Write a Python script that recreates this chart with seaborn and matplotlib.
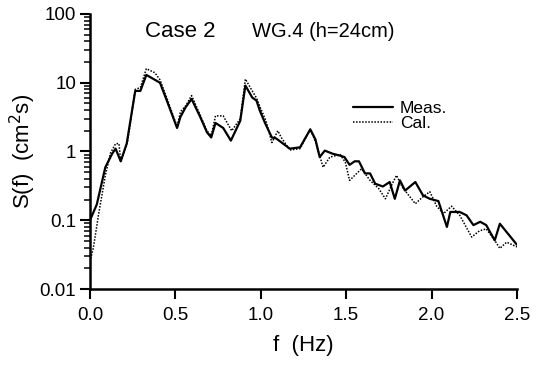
import matplotlib
matplotlib.use("Agg")
import matplotlib.pyplot as plt
import matplotlib.ticker as mticker
import seaborn as sns
import pandas as pd

# Measured spectrum
f_meas = [0.00, 0.04, 0.09, 0.13, 0.15, 0.18, 0.215, 0.265, 0.295, 0.33, 0.41,
          0.45, 0.51, 0.53, 0.56, 0.595, 0.645, 0.685, 0.71, 0.735, 0.78, 0.825,
          0.88, 0.91, 0.95, 0.975, 0.995, 1.025, 1.065, 1.09, 1.17, 1.23, 1.29,
          1.32, 1.345, 1.375, 1.42, 1.465, 1.49, 1.52, 1.55, 1.575, 1.61, 1.64,
          1.67, 1.715, 1.755, 1.785, 1.815, 1.845, 1.905, 1.95, 1.99, 2.04,
          2.09, 2.11, 2.165, 2.205, 2.245, 2.285, 2.32, 2.37, 2.40, 2.50]
s_meas = [0.10, 0.17, 0.59, 0.93, 1.1, 0.72, 1.3, 7.6, 7.6, 13.0, 10.0,
          5.5, 2.2, 3.2, 4.4, 5.8, 3.2, 1.9, 1.6, 2.6, 2.2, 1.44,
          2.8, 9.1, 6.1, 5.5, 3.9, 2.6, 1.6, 1.55, 1.1, 1.15, 2.1,
          1.5, 0.83, 1.03, 0.93, 0.87, 0.83, 0.64, 0.72, 0.72, 0.48, 0.48,
          0.34, 0.31, 0.36, 0.205, 0.38, 0.27, 0.36, 0.23, 0.205, 0.19,
          0.08, 0.132, 0.132, 0.118, 0.085, 0.095, 0.085, 0.051, 0.089, 0.044]

# Calculated spectrum
f_cal = [0.00, 0.02, 0.05, 0.09, 0.12, 0.15, 0.17, 0.18, 0.22, 0.265, 0.295,
         0.33, 0.38, 0.41, 0.45, 0.51, 0.53, 0.56, 0.595, 0.645, 0.685, 0.71,
         0.735, 0.78, 0.83, 0.88, 0.91, 0.95, 0.975, 1.00, 1.03, 1.065, 1.10,
         1.12, 1.17, 1.23, 1.29, 1.32, 1.365, 1.405, 1.465, 1.495, 1.52, 1.59,
         1.64, 1.69, 1.73, 1.77, 1.795, 1.83, 1.905, 1.95, 1.99, 2.03, 2.07,
         2.117, 2.165, 2.235, 2.28, 2.32, 2.37, 2.40, 2.44, 2.50]
s_cal = [0.025, 0.04, 0.12, 0.45, 0.95, 1.3, 1.3, 0.7, 1.4, 8.0, 8.5,
         16.0, 14.0, 11.0, 6.0, 2.3, 3.8, 4.6, 6.5, 3.4, 2.0, 1.7,
         3.3, 3.3, 2.0, 3.0, 11.3, 7.6, 6.0, 4.2, 2.8, 1.35, 2.0,
         1.6, 1.05, 1.1, 2.1, 1.4, 0.59, 0.83, 0.9, 0.7, 0.38, 0.56,
         0.38, 0.29, 0.205, 0.34, 0.45, 0.3, 0.174, 0.22, 0.26, 0.16, 0.125,
         0.16, 0.118, 0.057, 0.07, 0.075, 0.051, 0.039, 0.048, 0.041]

x_ticks = [0.0, 0.5, 1.0, 1.5, 2.0, 2.5]
y_ticks = [0.01, 0.1, 1, 10, 100]
y_tick_labels = ["0.01", "0.1", "1", "10", "100"]

sns.set_theme(style="ticks")
plt.rcParams["font.family"] = ["Liberation Sans", "DejaVu Sans"]
plt.rcParams["text.color"] = "black"
plt.rcParams["axes.labelcolor"] = "black"

df = pd.concat([
    pd.DataFrame({"f": f_meas, "S": s_meas, "kind": "Meas."}),
    pd.DataFrame({"f": f_cal, "S": s_cal, "kind": "Cal."}),
])

fig = plt.figure(figsize=(5.43, 3.67), dpi=100)
ax = fig.add_axes([0.1657, 0.2125, 0.7863, 0.7494])

sns.lineplot(data=df[df.kind == "Meas."], x="f", y="S", ax=ax, color="black",
             lw=1.6, estimator=None, sort=False, label="Meas.")
sns.lineplot(data=df[df.kind == "Cal."], x="f", y="S", ax=ax, color="black",
             lw=1.1, ls=(0, (1, 1)), estimator=None, sort=False, label="Cal.")

ax.set_yscale("log")
ax.set_xlim(0, 2.5)
ax.set_ylim(0.01, 100)
ax.set_xticks(x_ticks)
ax.set_xticklabels([f"{v:.1f}" for v in x_ticks])
ax.set_yticks(y_ticks)
ax.set_yticklabels(y_tick_labels)
ax.yaxis.set_minor_locator(mticker.LogLocator(base=10, subs=range(2, 10)))
ax.yaxis.set_minor_formatter(mticker.NullFormatter())

ax.tick_params(axis="both", which="major", direction="out", length=7,
               width=1.5, labelsize=13.5, color="black", labelcolor="black")
ax.tick_params(axis="y", which="major", pad=3)
ax.tick_params(axis="x", which="major", pad=6)
ax.tick_params(axis="y", which="minor", direction="out", length=4, width=1.1,
               color="black")
for side in ("top", "right"):
    ax.spines[side].set_visible(False)
for side in ("left", "bottom"):
    ax.spines[side].set_linewidth(1.8)
    ax.spines[side].set_color("black")

ax.set_xlabel("f  (Hz)", fontsize=16, labelpad=8)
ax.set_ylabel("S(f)  (cm$^2$s)", fontsize=16, labelpad=1)

ax.text(0.128, 0.937, "Case 2", transform=ax.transAxes, fontsize=16,
        ha="left", va="center")
ax.text(0.379, 0.937, "WG.4 (h=24cm)", transform=ax.transAxes, fontsize=14.5,
        ha="left", va="center")

leg = ax.legend(loc="upper left", bbox_to_anchor=(0.6, 0.71), frameon=False,
                fontsize=12.5, handlelength=2.3, handletextpad=0.4,
                labelspacing=0.0, borderaxespad=0)

fig.savefig("out.png", dpi=100, facecolor="white")
